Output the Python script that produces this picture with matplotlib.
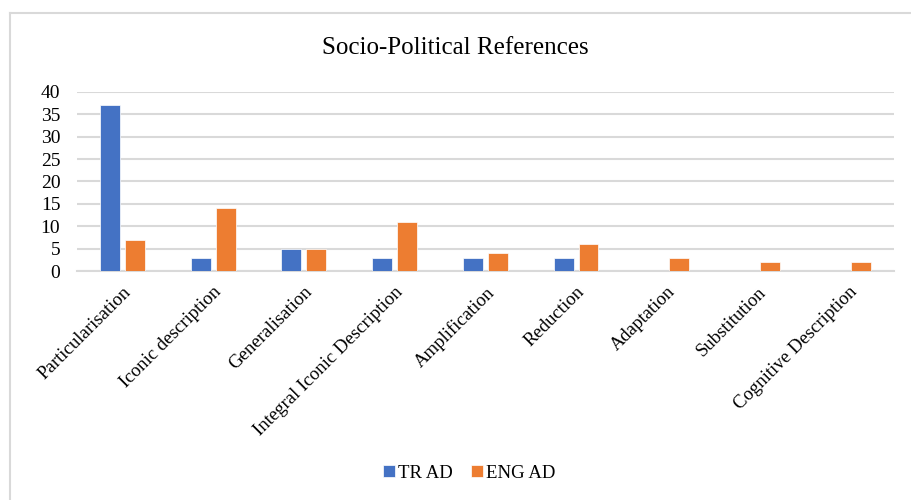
import matplotlib
matplotlib.use("Agg")
import matplotlib.pyplot as plt
import numpy as np
from matplotlib.lines import Line2D

categories = ["Particularisation", "Iconic description", "Generalisation",
              "Integral Iconic Description", "Amplification", "Reduction",
              "Adaptation", "Substitution", "Cognitive Description"]
tr_ad = [37, 3, 5, 3, 3, 3, 0, 0, 0]
eng_ad = [7, 14, 5, 11, 4, 6, 3, 2, 2]
y_ticks = [0, 5, 10, 15, 20, 25, 30, 35, 40]

plt.rcParams['font.family'] = ['Liberation Serif', 'DejaVu Serif']

fig = plt.figure(figsize=(9.11, 5.0), dpi=100)
ax = fig.add_axes([0.0845, 0.458, 0.8965, 0.358])

x = np.arange(len(categories))
w = 0.22
off = 0.137
ax.bar(x - off, tr_ad, w, color="#4472C4", label="TR AD", zorder=3,
       edgecolor="white", linewidth=0.5)
ax.bar(x + off, eng_ad, w, color="#ED7D31", label="ENG AD", zorder=3,
       edgecolor="white", linewidth=0.5)

ax.set_xlim(-0.5, len(categories) - 0.5)
ax.set_ylim(0, 40)
ax.set_yticks(y_ticks)
ax.set_yticklabels([str(v) for v in y_ticks], fontsize=14)
ax.yaxis.grid(True, color="#d9d9d9", linewidth=1.5, zorder=0)
ax.set_axisbelow(True)
for s in ["top", "right", "left"]:
    ax.spines[s].set_visible(False)
ax.spines["bottom"].set_color("#d9d9d9")
ax.spines["bottom"].set_linewidth(1.5)
ax.tick_params(axis="y", length=0, pad=12)
ax.tick_params(axis="x", length=0, pad=9)

ax.set_xticks(x)
ax.set_xticklabels(categories, rotation=45, ha="right",
                   rotation_mode="anchor", fontsize=13.5)

fig.text(0.5, 0.904, "Socio-Political References", ha="center", va="center",
         fontsize=18)

fig.legend(loc="center", bbox_to_anchor=(0.515, 0.054), ncol=2, frameon=False,
           fontsize=13.5, handlelength=0.65, handleheight=0.65,
           handletextpad=0.15, columnspacing=0.95)

# outer chart frame (left and top edges)
fx = 10 / 911
fy = 1 - 13 / 500
fig.add_artist(Line2D([fx, fx], [0, fy], transform=fig.transFigure,
                      color="#d9d9d9", linewidth=1.5))
fig.add_artist(Line2D([fx, 1], [fy, fy], transform=fig.transFigure,
                      color="#d9d9d9", linewidth=1.5))

fig.savefig("out.png", dpi=100)
